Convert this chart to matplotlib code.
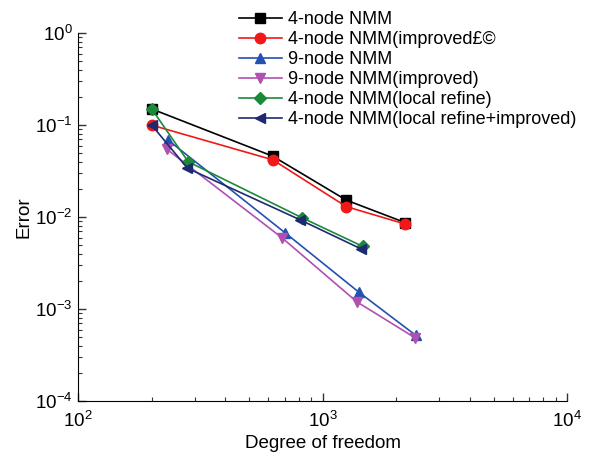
import numpy as np
import matplotlib.pyplot as plt

plt.rcParams['font.family'] = ['Liberation Sans', 'DejaVu Sans']
plt.rcParams['mathtext.fontset'] = 'custom'
plt.rcParams['mathtext.rm'] = 'Liberation Sans'

# data
dof_4 = [200, 625, 1250, 2180]
err_4 = [0.15, 0.046, 0.0153, 0.0087]
dof_4i = [200, 625, 1250, 2180]
err_4i = [0.1, 0.042, 0.013, 0.0084]
dof_9 = [233, 700, 1410, 2400]
err_9 = [0.069, 0.0068, 0.00152, 0.00052]
dof_9i = [230, 680, 1380, 2380]
err_9i = [0.055, 0.006, 0.0012, 0.00049]
dof_4lr = [200, 282, 820, 1460]
err_4lr = [0.15, 0.040, 0.0099, 0.0048]
dof_4lri = [200, 280, 805, 1440]
err_4lri = [0.1, 0.034, 0.0094, 0.0045]

fig = plt.figure(figsize=(5.92, 4.61), dpi=100)
ax = fig.add_axes([0.132, 0.130, 0.826, 0.798])

ax.plot(dof_4, err_4, color='black', marker='s', ms=6.5, lw=1.2, label='4-node NMM')
ax.plot(dof_4i, err_4i, color='#f01818', marker='o', ms=7.5, lw=1.2, label='4-node NMM(improved£©')
ax.plot(dof_9, err_9, color='#2450b0', marker='^', ms=7.5, lw=1.2, label='9-node NMM')
ax.plot(dof_9i, err_9i, color='#b050b0', marker='v', ms=7.5, lw=1.2, label='9-node NMM(improved)')
ax.plot(dof_4lr, err_4lr, color='#1a8a3a', marker='D', ms=6, lw=1.2, label='4-node NMM(local refine)')
ax.plot(dof_4lri, err_4lri, color='#1e2a70', marker='<', ms=7.5, lw=1.2, label='4-node NMM(local refine+improved)')

ax.set_xscale('log')
ax.set_yscale('log')
ax.set_xlim(1e2, 1e4)
ax.set_ylim(1e-4, 1e0)
ax.spines['top'].set_visible(False)
ax.spines['right'].set_visible(False)
ax.tick_params(which='both', direction='in', labelsize=13.5, color='#333333')
ax.tick_params(which='major', length=6, width=1)
ax.tick_params(which='minor', length=3, width=0.8)
ax.tick_params(axis='x', pad=7)
ax.tick_params(axis='y', pad=4)
ax.set_xlabel('Degree of freedom', fontsize=13.5, labelpad=3)
ax.set_ylabel('Error', fontsize=13.5, labelpad=2)

fig.legend(loc='upper left', bbox_to_anchor=(0.388, 0.996), frameon=False,
           fontsize=13, borderpad=0, labelspacing=0.17, handlelength=2.4,
           handletextpad=0.35)

fig.savefig('out.png', dpi=100)
